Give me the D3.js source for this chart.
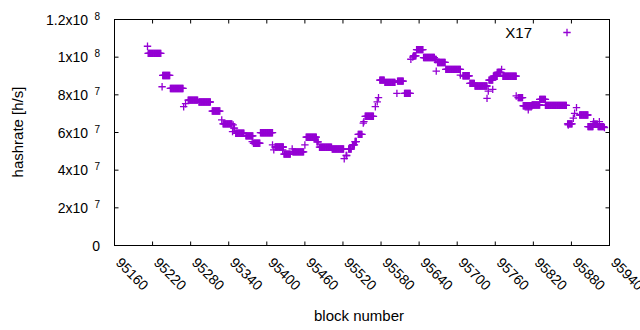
<!DOCTYPE html>
<html>
<head>
<meta charset="utf-8">
<script src="https://cdn.jsdelivr.net/npm/d3@7"></script>
<style>
  body { margin: 0; background: #fff; }
  text { font-family: "Liberation Sans", Arial, sans-serif; fill: #000; }
</style>
</head>
<body>
<div id="chart"></div>
<script>
// runs of blocks that share the same hashrate (values in 10^6 h/s)
const runStart = [95212, 95213, 95235, 95236, 95248, 95269, 95272, 95276, 95293, 95314,
                  95329, 95331, 95346, 95347, 95348, 95351, 95367, 95377, 95379, 95390,
                  95409, 95411, 95413, 95425, 95427, 95440, 95441, 95460, 95462, 95479,
                  95483, 95503, 95522, 95525, 95529, 95535, 95539, 95544, 95552, 95553,
                  95555, 95571, 95574, 95576, 95578, 95586, 95605, 95606, 95617, 95627,
                  95630, 95631, 95636, 95647, 95665, 95667, 95669, 95682, 95705, 95709,
                  95720, 95728, 95747, 95749, 95750, 95756, 95757, 95763, 95770, 95772,
                  95793, 95796, 95804, 95812, 95818, 95830, 95839, 95874, 95875, 95883,
                  95885, 95888, 95893, 95906, 95915, 95914, 95924, 95922, 95932];
const runEnd   = [95212, 95233, 95235, 95247, 95268, 95269, 95272, 95291, 95311, 95326,
                  95329, 95345, 95346, 95347, 95349, 95364, 95378, 95377, 95389, 95409,
                  95409, 95411, 95426, 95425, 95437, 95440, 95458, 95460, 95478, 95481,
                  95502, 95521, 95522, 95526, 95533, 95538, 95541, 95550, 95552, 95553,
                  95568, 95571, 95574, 95576, 95585, 95602, 95605, 95615, 95626, 95627,
                  95630, 95635, 95646, 95664, 95667, 95667, 95681, 95705, 95705, 95719,
                  95727, 95747, 95747, 95749, 95756, 95756, 95763, 95769, 95770, 95793,
                  95793, 95803, 95818, 95812, 95830, 95839, 95872, 95881, 95875, 95883,
                  95885, 95888, 95906, 95914, 95915, 95921, 95924, 95931, 95932];
const runRate  = [105.8, 102.0, 84.3, 90.3, 83.4, 73.7, 75.3, 77.2, 76.2, 71.4,
                  66.7, 64.6, 60.5, 64.0, 62.3, 59.6, 58.2, 55.2, 54.3, 59.9,
                  53.4, 50.8, 52.3, 50.8, 48.5, 51.3, 49.7, 53.4, 57.5, 55.0,
                  52.2, 51.2, 46.1, 47.8, 51.2, 53.4, 55.2, 59.0, 65.0, 65.8,
                  68.6, 73.7, 76.3, 78.5, 87.8, 86.6, 80.8, 87.3, 80.8, 98.9,
                  100.0, 100.7, 104.0, 99.8, 98.8, 92.6, 97.2, 93.5, 90.5, 90.1,
                  86.1, 84.7, 78.1, 82.0, 87.8, 82.9, 89.9, 91.9, 93.5, 89.9,
                  79.4, 78.5, 74.2, 72.0, 74.6, 77.6, 74.4, 64.6, 64.0, 67.6,
                  70.2, 73.2, 69.3, 63.1, 65.8, 64.4, 65.8, 63.1, 62.6];

const xTicks = [95160, 95220, 95280, 95340, 95400, 95460, 95520, 95580, 95640, 95700, 95760, 95820, 95880, 95940];
const yTicks = [0, 20, 40, 60, 80, 100, 120];
const yTickMantissa = ["0", "2x10", "4x10", "6x10", "8x10", "1x10", "1.2x10"];
const yTickExponent = ["", "7", "7", "7", "7", "8", "8"];
const seriesName = "X17";

document.addEventListener("DOMContentLoaded", function () {
    const width = 640, height = 330;
    const color = "#9400d3";

    const svg = d3.select("#chart").append("svg")
        .attr("width", width)
        .attr("height", height)
        .style("display", "block");

    const x = d3.scaleLinear().domain([95160, 95940]).range([114.5, 609.5]);
    const y = d3.scaleLinear().domain([0, 120]).range([245.5, 19.5]);

    // one point per block
    const points = [];
    runStart.forEach((s, i) => {
        for (let b = s; b <= runEnd[i]; b++) points.push({ block: b, rate: runRate[i] });
    });

    const plus = "M-3.7,0H3.7M0,-3.7V3.7";

    svg.append("g")
        .selectAll("path")
        .data(points)
        .enter().append("path")
        .attr("transform", d => `translate(${x(d.block)},${y(d.rate)})`)
        .attr("d", plus)
        .attr("stroke", color)
        .attr("stroke-width", 1.3)
        .attr("fill", "none");

    // frame with inward ticks on all sides
    const axes = svg.append("g").attr("stroke", "#000").attr("stroke-width", 1);
    axes.append("rect")
        .attr("x", x.range()[0]).attr("y", y.range()[1])
        .attr("width", x.range()[1] - x.range()[0])
        .attr("height", y.range()[0] - y.range()[1])
        .attr("fill", "none");

    xTicks.forEach(t => {
        axes.append("line").attr("x1", x(t)).attr("x2", x(t)).attr("y1", y(0)).attr("y2", y(0) - 4);
        axes.append("line").attr("x1", x(t)).attr("x2", x(t)).attr("y1", y(120)).attr("y2", y(120) + 4);
    });
    yTicks.forEach(t => {
        axes.append("line").attr("y1", y(t)).attr("y2", y(t)).attr("x1", x(95160)).attr("x2", x(95160) + 4);
        axes.append("line").attr("y1", y(t)).attr("y2", y(t)).attr("x1", x(95940)).attr("x2", x(95940) - 4);
    });

    // y tick labels with superscript exponent
    yTicks.forEach((t, i) => {
        if (yTickExponent[i] === "") {
            svg.append("text")
                .attr("x", 100).attr("y", y(t) + 5)
                .attr("text-anchor", "end")
                .style("font-size", "14px")
                .text(yTickMantissa[i]);
        } else {
            svg.append("text")
                .attr("x", 88).attr("y", y(t) + 5)
                .attr("text-anchor", "end")
                .style("font-size", "14px")
                .text(yTickMantissa[i]);
            svg.append("text")
                .attr("x", 94.5).attr("y", y(t))
                .style("font-size", "10px")
                .text(yTickExponent[i]);
        }
    });

    // x tick labels, rotated; the last one runs off the right edge as in the original
    xTicks.forEach(t => {
        const tx = x(t) + 3, ty = 261;
        svg.append("text")
            .attr("x", tx).attr("y", ty)
            .attr("text-anchor", "start")
            .attr("dominant-baseline", "middle")
            .attr("transform", `rotate(45, ${tx}, ${ty})`)
            .style("font-size", "14px")
            .text(t);
    });

    svg.append("text")
        .attr("transform", "translate(23, 132) rotate(-90)")
        .attr("text-anchor", "middle")
        .style("font-size", "15px")
        .text("hashrate [h/s]");

    svg.append("text")
        .attr("x", 359).attr("y", 321)
        .attr("text-anchor", "middle")
        .style("font-size", "15px")
        .text("block number");

    // legend
    svg.append("text")
        .attr("x", 532).attr("y", 37.5)
        .attr("text-anchor", "end")
        .style("font-size", "15px")
        .text(seriesName);
    svg.append("path")
        .attr("transform", "translate(567,32.5)")
        .attr("d", plus)
        .attr("stroke", color)
        .attr("stroke-width", 1.3)
        .attr("fill", "none");
});
</script>
</body>
</html>
